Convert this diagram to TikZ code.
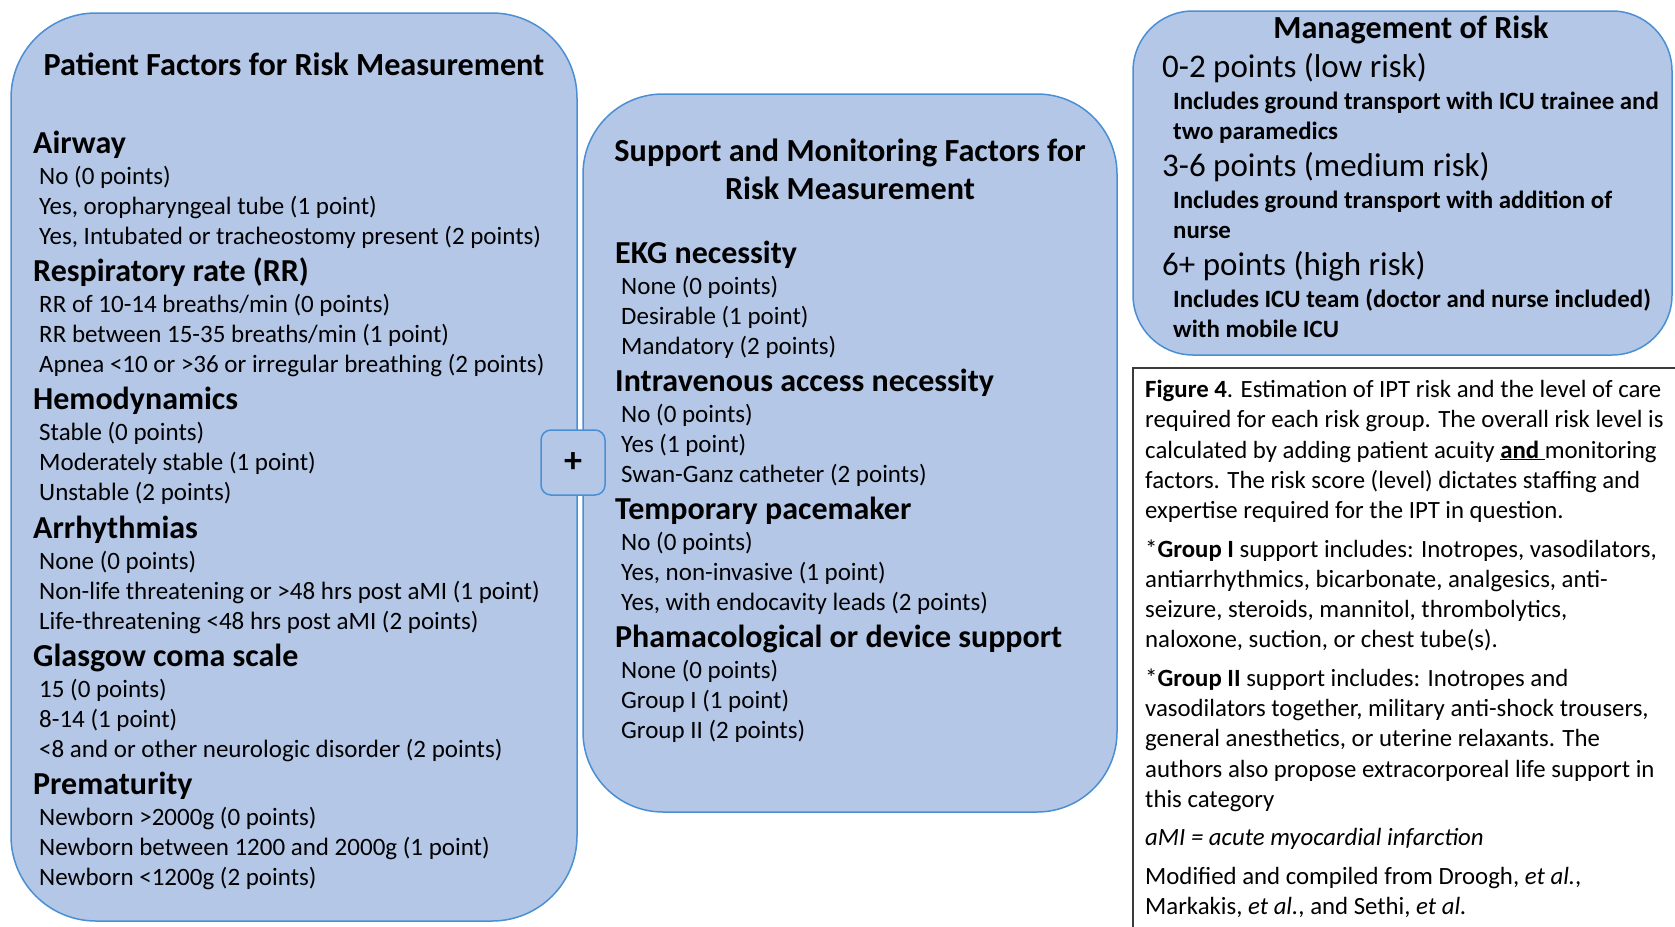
\documentclass[tikz,border=0pt]{standalone}
\usepackage{fontspec}
\setmainfont{Carlito}
\definecolor{panelfill}{HTML}{B4C7E7}
\definecolor{panelline}{HTML}{4A8FD4}
\definecolor{capline}{HTML}{3A3A3A}

\tikzset{
  panel/.style={draw=panelline, fill=panelfill, line width=1.5pt},
  title/.style={anchor=base, inner sep=0pt, font=\fontsize{32.2}{38}\selectfont\bfseries},
  head/.style={anchor=base west, inner sep=0pt, font=\fontsize{32}{38}\selectfont\bfseries},
  opt/.style={anchor=base west, inner sep=0pt, font=\fontsize{25}{30}\selectfont},
  band/.style={anchor=base west, inner sep=0pt, font=\fontsize{33}{39}\selectfont},
  bandopt/.style={anchor=base west, inner sep=0pt, font=\fontsize{24.9}{30}\selectfont\bfseries}
}

% one scoring factor: name, x, y, heading, three options
\newcommand{\factor}[7]{%
  \node[head] (#1) at (#2,#3) {#4};
  \node[opt] (#1-a) at ([shift={(6,31)}]#1.base west) {#5};
  \node[opt] (#1-b) at ([shift={(0,30)}]#1-a.base west) {#6};
  \node[opt] (#1-c) at ([shift={(0,30)}]#1-b.base west) {#7};
}

% one risk level: name, y, heading, two lines
\newcommand{\riskband}[5]{%
  \node[band] (#1) at (1162,#2) {#3};
  \node[bandopt] (#1-a) at ([shift={(11,32)}]#1.base west) {#4};
  \node[bandopt] (#1-b) at ([shift={(0,30)}]#1-a.base west) {#5};
}

\begin{document}
\begin{tikzpicture}[x=1pt, y=-1pt]
  % page
  \path[use as bounding box, fill=white] (0,0) rectangle (1675,926);

  % the three panels
  \node[panel, rounded corners=85pt, minimum width=566pt, minimum height=908pt] (patient) at (294,467) {};
  \node[panel, rounded corners=80pt, minimum width=534pt, minimum height=718pt] (support) at (850,453) {};
  \node[panel, rounded corners=60pt, minimum width=539pt, minimum height=344pt] (manage) at (1402.5,183) {};

  % plus sign between the panels
  \node[panel, rounded corners=10pt, minimum width=64pt, minimum height=65pt,
        font=\fontsize{36}{40}\selectfont\bfseries] (plus) at (573,462.5) {+};

  % patient factors
  \node[title] (pattitle) at (294,75.5) {Patient Factors for Risk Measurement};
  \factor{airway}{33}{153}{Airway}{No (0 points)}{Yes, oropharyngeal tube (1 point)}{Yes, Intubated or tracheostomy present (2 points)}
  \factor{resp}{33}{281}{Respiratory rate (RR)}{RR of 10-14 breaths/min (0 points)}{RR between 15-35 breaths/min (1 point)}{Apnea <10 or >36 or irregular breathing (2 points)}
  \factor{hemo}{33}{409}{Hemodynamics}{Stable (0 points)}{Moderately stable (1 point)}{Unstable (2 points)}
  \factor{arrh}{33}{538}{Arrhythmias}{None (0 points)}{Non-life threatening or >48 hrs post aMI (1 point)}{Life-threatening <48 hrs post aMI (2 points)}
  \factor{gcs}{33}{666}{Glasgow coma scale}{15 (0 points)}{8-14 (1 point)}{<8 and or other neurologic disorder (2 points)}
  \factor{prem}{33}{794}{Prematurity}{Newborn >2000g (0 points)}{Newborn between 1200 and 2000g (1 point)}{Newborn <1200g (2 points)}

  % support and monitoring factors
  \node[title] (suptitle) at (850,161) {Support and Monitoring Factors for};
  \node[title] (suptitle2) at ([shift={(0,38)}]suptitle.base) {Risk Measurement};
  \factor{ekg}{615}{263}{EKG necessity}{None (0 points)}{Desirable (1 point)}{Mandatory (2 points)}
  \factor{iv}{615}{391}{Intravenous access necessity}{No (0 points)}{Yes (1 point)}{Swan-Ganz catheter (2 points)}
  \factor{pace}{615}{519}{Temporary pacemaker}{No (0 points)}{Yes, non-invasive (1 point)}{Yes, with endocavity leads (2 points)}
  \factor{pharm}{615}{647}{Phamacological or device support}{None (0 points)}{Group I (1 point)}{Group II (2 points)}

  % management of risk
  \node[title] (mantitle) at (1411,38.5) {Management of Risk};
  \riskband{low}{77}{0-2 points (low risk)}{Includes ground transport with ICU trainee and}{two paramedics}
  \riskband{medium}{176.5}{3-6 points (medium risk)}{Includes ground transport with addition of}{nurse}
  \riskband{high}{275}{6+ points (high risk)}{Includes ICU team (doctor and nurse included)}{with mobile ICU}

  % caption box, runs off the page to the right and bottom
  \node[draw=capline, line width=2pt, minimum width=567pt, minimum height=582pt] (capframe) at (1416.5,659) {};
  \node[anchor=north west, inner sep=0pt, align=left, font=\fontsize{24.8}{30.2}\selectfont] (caption) at (1145,380) {%
    \textbf{Figure 4}. Estimation of IPT risk and the level of care\\
    required for each risk group. The overall risk level is\\
    calculated by adding patient acuity \underline{\textbf{and }}monitoring\\
    factors. The risk score (level) dictates staffing and\\
    expertise required for the IPT in question.\\[8.5pt]
    *\textbf{Group I} support includes: Inotropes, vasodilators,\\
    antiarrhythmics, bicarbonate, analgesics, anti-\\
    seizure, steroids, mannitol, thrombolytics,\\
    naloxone, suction, or chest tube(s).\\[8.5pt]
    *\textbf{Group II} support includes: Inotropes and\\
    vasodilators together, military anti-shock trousers,\\
    general anesthetics, or uterine relaxants. The\\
    authors also propose extracorporeal life support in\\
    this category\\[8.5pt]
    \textit{aMI = acute myocardial infarction}\\[8.5pt]
    Modified and compiled from Droogh, \textit{et al.},\\
    Markakis, \textit{et al.}, and Sethi, \textit{et al.}};
\end{tikzpicture}
\end{document}
